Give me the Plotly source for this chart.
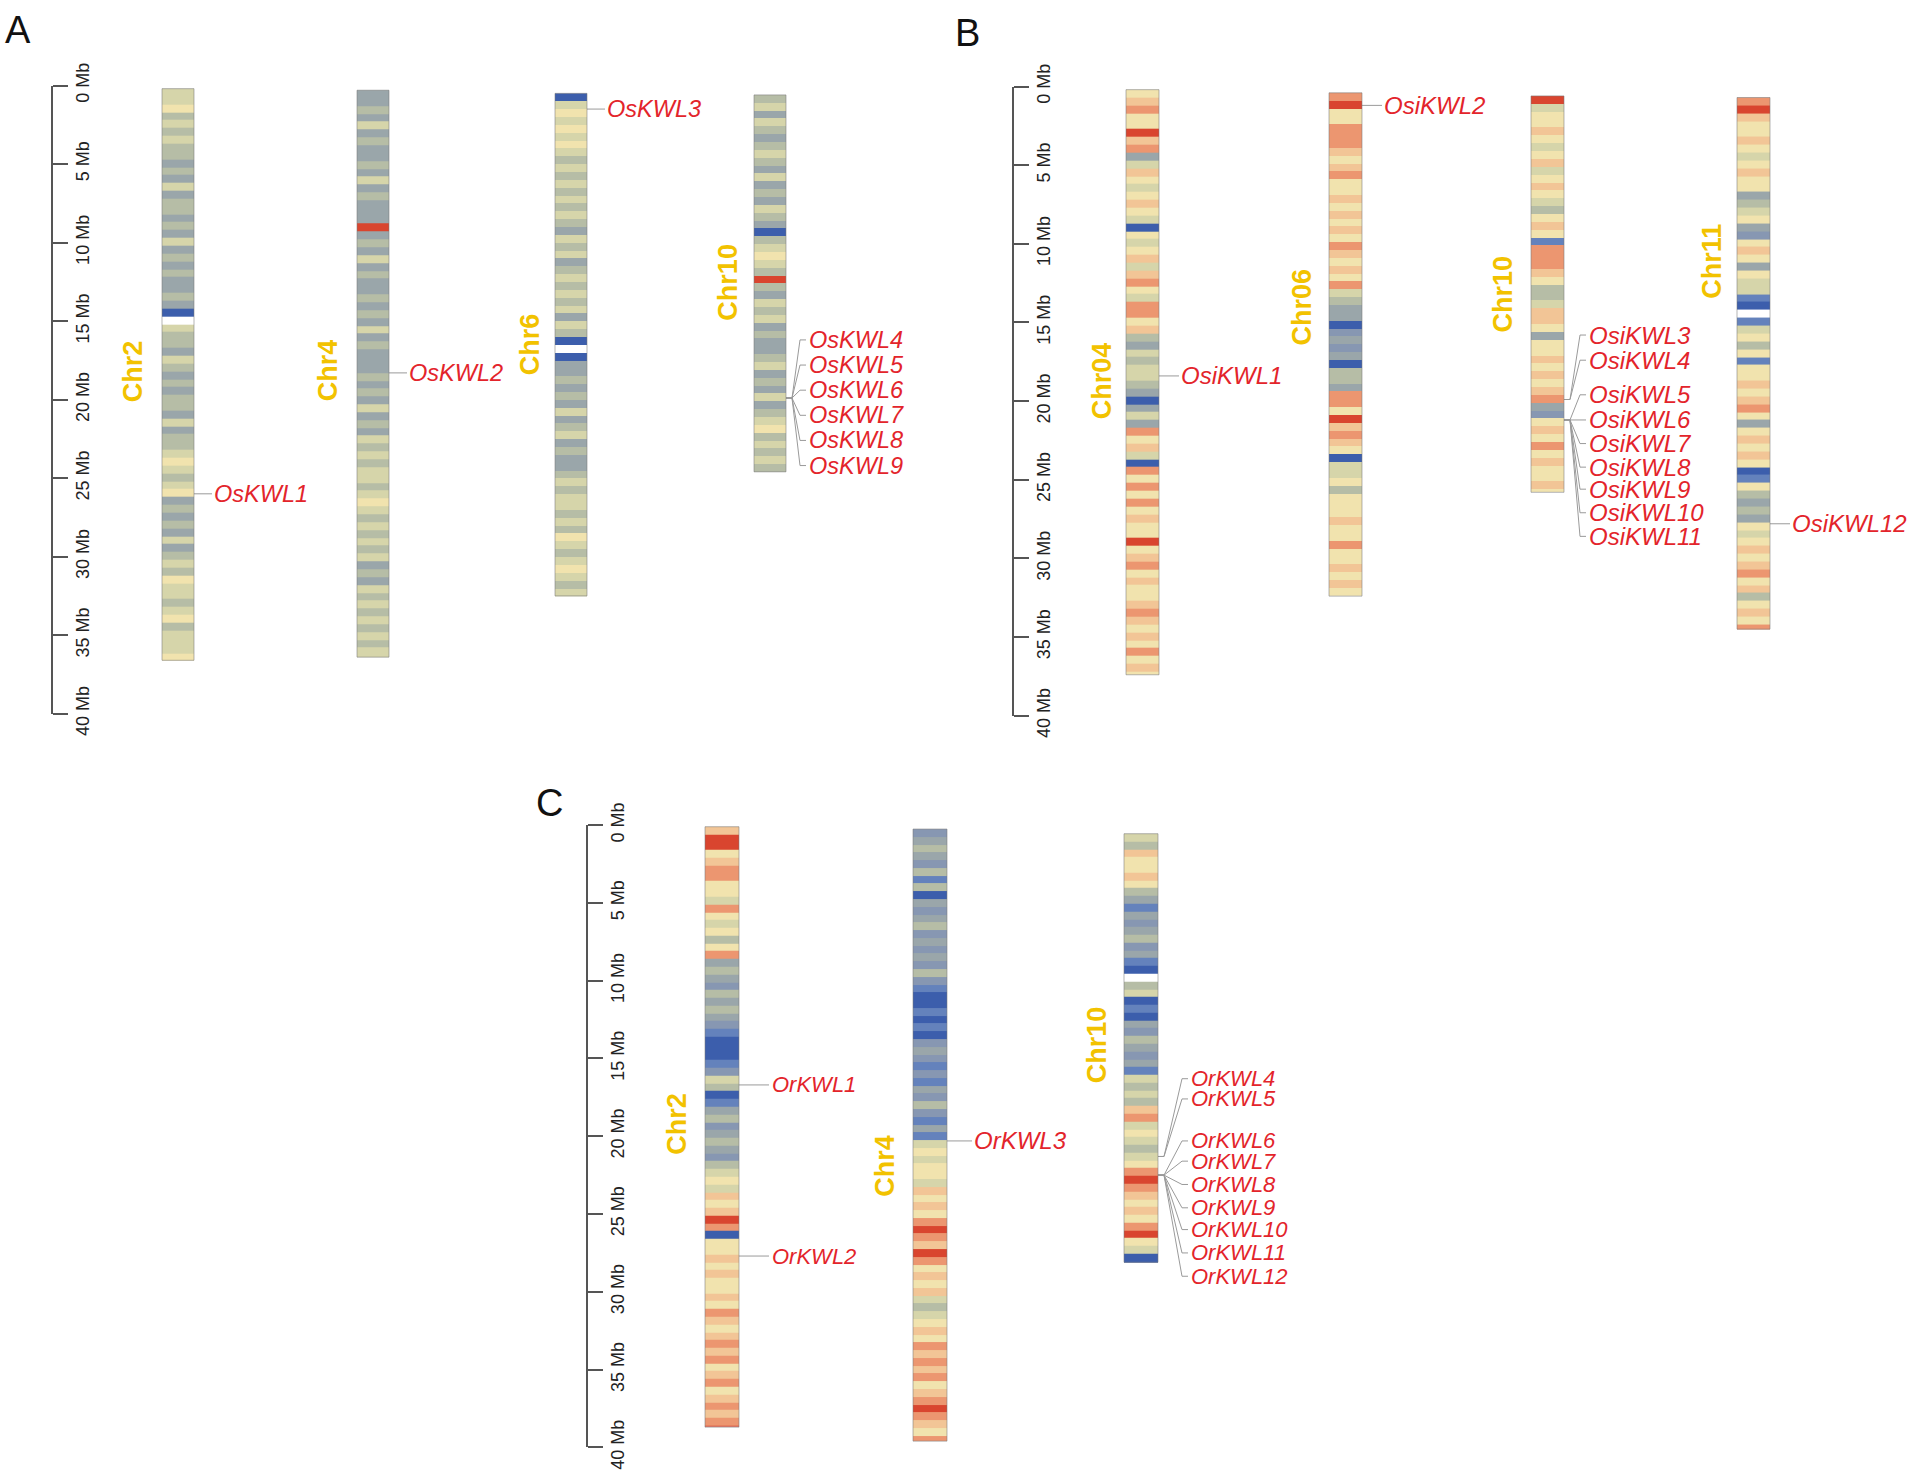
import plotly.graph_objects as go

W, H = 1913, 1481
BIN = 0.5  # Mb covered by one density band

# ---------------- data ----------------
# density level per 0.5 Mb band: 0 (low, blue) ... 9 (high, red); 'w' = gap (white)
A_chroms = ["Chr2", "Chr4", "Chr6", "Chr10"]
A_start = [0.2, 0.3, 0.5, 0.6]
A_end = [36.6, 36.4, 32.5, 24.6]
A_bands = [
    "55645454" "43435344" "34353434" "3343" "0w" "5443543434" "435344565456" "34343534" "5465545645556",
    "33435343" "34353433" "3934" "353433434353" "433343435343" "545455456545" "4545343545454545",
    "05656565" "45454545" "43545345" "45453540" "w0" "33434353" "45343345" "45545465" "456545",
    "45354345" "43534354" "30" "456549" "43545343" "34534353" "45645454",
]
A_genes = ["OsKWL1", "OsKWL2", "OsKWL3", "OsKWL4", "OsKWL5", "OsKWL6", "OsKWL7", "OsKWL8", "OsKWL9"]
A_gene_chrom = ["Chr2", "Chr4", "Chr6", "Chr10", "Chr10", "Chr10", "Chr10", "Chr10", "Chr10"]
A_gene_pos = [26.0, 18.3, 1.5, 19.9, 19.9, 19.9, 19.9, 19.9, 19.9]

B_chroms = ["Chr04", "Chr06", "Chr10", "Chr11"]
B_start = [0.2, 0.4, 0.6, 0.7]
B_end = [37.4, 32.4, 25.8, 34.5]
B_bands = [
    "6786" "6978" "3576" "5676" "5065" "6757" "8658" "8674" "3545" "5430" "3538" "6750"
    "8686" "8676" "6967" "8676" "6787" "6768" "676",
    "8966" "8887" "6786" "6767" "6768" "7676" "8543" "3023" "2304" "4388" "6978" "7605"
    "5646" "6676" "6866" "7676",
    "9566" "7656" "7567" "6546" "7618" "8876" "4457" "7636" "6767" "6783" "2676" "8676" "676",
    "8976" "6765" "6766" "3456" "3267" "6365" "510w" "1564" "6166" "7678" "6367" "6760"
    "1643" "4365" "6767" "8674" "6768",
]
B_genes = ["OsiKWL1", "OsiKWL2", "OsiKWL3", "OsiKWL4", "OsiKWL5", "OsiKWL6", "OsiKWL7",
           "OsiKWL8", "OsiKWL9", "OsiKWL10", "OsiKWL11", "OsiKWL12"]
B_gene_chrom = ["Chr04", "Chr06"] + ["Chr10"] * 9 + ["Chr11"]
B_gene_pos = [18.4, 1.2, 19.9, 19.9, 21.2, 21.2, 21.2, 21.2, 21.2, 21.2, 21.2, 27.8]

C_chroms = ["Chr2", "Chr4", "Chr10"]
C_start = [0.1, 0.25, 0.55]
C_end = [38.7, 39.6, 28.1]
C_bands = [
    "7996" "7886" "6586" "5646" "8343" "2434" "3210" "0012" "5401" "3423" "4324" "5657"
    "6798" "0667" "6766" "7687" "6787" "8678" "6787" "89",
    "2343" "2414" "0323" "4232" "3242" "1001" "0102" "3212" "1324" "2131" "5656" "6576"
    "7689" "8798" "6767" "5456" "7687" "8786" "7898" "768",
    "5476" "6764" "3132" "3423" "10w4" "5010" "3243" "2315" "4547" "8565" "4568" "9876"
    "7689" "6500",
]
C_genes = ["OrKWL1", "OrKWL2", "OrKWL3", "OrKWL4", "OrKWL5", "OrKWL6", "OrKWL7",
           "OrKWL8", "OrKWL9", "OrKWL10", "OrKWL11", "OrKWL12"]
C_gene_chrom = ["Chr2", "Chr2", "Chr4"] + ["Chr10"] * 9
C_gene_pos = [16.7, 27.7, 20.3, 21.3, 21.3, 22.5, 22.5, 22.5, 22.5, 22.5, 22.5, 22.5]

ruler_ticks = [0, 5, 10, 15, 20, 25, 30, 35, 40]
ruler_labels = [f"{t} Mb" for t in ruler_ticks]

# ---------------- layout / style ----------------
LEVEL_COLORS = ["#3C5EAC", "#6482BC", "#8797B2", "#9AA6AA", "#B6BDA6", "#D6D5AA",
                "#F1E3AE", "#F2C596", "#EC9670", "#D9452F", "#FFFFFF"]
GENE_RED = "#E3242B"
CHR_GOLD = "#F2C200"
LINE_GREY = "#9A9A9A"


def vy(px):
    # vertical placement calibration (pixel row in the target picture -> page pixel)
    return (px - 17.2) / 0.974


panels = [
    dict(letter="A", letter_xy=(18, 24), yref="y2", y0px=80, y40px=711, ruler_x=52,
         chroms=A_chroms, start=A_start, end=A_end, bands=A_bands,
         bar_left=[162, 357, 555, 754], bar_w=32,
         name_xy=[(133, 367), (328, 366), (530, 340), (728, 278)],
         genes=A_genes, gene_chrom=A_gene_chrom, gene_pos=A_gene_pos,
         label_y=[26.0, 18.3, 1.5, 16.2, 17.8, 19.4, 21.0, 22.6, 24.2],
         single_gap=19, fan_gap=22, label_size=23.5, cluster_size=23.5),
    dict(letter="B", letter_xy=(968, 27), yref="y3", y0px=81, y40px=713, ruler_x=1013,
         chroms=B_chroms, start=B_start, end=B_end, bands=B_bands,
         bar_left=[1126, 1329, 1531, 1737], bar_w=33,
         name_xy=[(1102, 377), (1302, 303), (1503, 290), (1712, 257)],
         genes=B_genes, gene_chrom=B_gene_chrom, gene_pos=B_gene_pos,
         label_y=[18.4, 1.2, 15.8, 17.4, 19.6, 21.2, 22.7, 24.2, 25.6, 27.1, 28.6, 27.8],
         single_gap=21, fan_gap=24, label_size=24, cluster_size=24),
    dict(letter="C", letter_xy=(549, 801), yref="y4", y0px=823, y40px=1448, ruler_x=587,
         chroms=C_chroms, start=C_start, end=C_end, bands=C_bands,
         bar_left=[705, 913, 1124], bar_w=34,
         name_xy=[(677, 1123), (885, 1165), (1097, 1044)],
         genes=C_genes, gene_chrom=C_gene_chrom, gene_pos=C_gene_pos,
         label_y=[16.7, 27.7, 20.3, 16.3, 17.6, 20.3, 21.6, 23.1, 24.6, 26.0, 27.5, 29.0],
         single_gap=26, fan_gap=32, label_size=24, cluster_size=22),
]

n_lv = len(LEVEL_COLORS)
colorscale = []
for i, c in enumerate(LEVEL_COLORS):
    colorscale.append([i / n_lv, c])
    colorscale.append([(i + 1) / n_lv, c])


def level(ch):
    return 10 if ch == "w" else int(ch)


fig = go.Figure()
annotations = []
shapes = []

for p in panels:
    yref = p["yref"]
    for ci, chrom in enumerate(p["chroms"]):
        s, e, b = p["start"][ci], p["end"][ci], p["bands"][ci]
        edges = [s + BIN * i for i in range(len(b))] + [e]
        left = p["bar_left"][ci]
        right = left + p["bar_w"]
        fig.add_trace(go.Heatmap(
            x=[left, right], y=edges, z=[[level(ch)] for ch in b],
            colorscale=colorscale, zmin=-0.5, zmax=n_lv - 0.5, showscale=False,
            hoverinfo="skip", xaxis="x", yaxis=yref))
        shapes.append(dict(type="rect", xref="x", yref=yref, x0=left, x1=right, y0=s, y1=e,
                           line=dict(color="rgba(120,120,120,0.55)", width=1),
                           fillcolor="rgba(0,0,0,0)"))
        nx, ny = p["name_xy"][ci]
        annotations.append(dict(x=nx / W, y=1 - vy(ny) / H, xref="paper", yref="paper",
                                text=f"<b>{chrom}</b>", textangle=-90, showarrow=False,
                                xanchor="center", yanchor="middle",
                                font=dict(family="Liberation Sans, Arial", size=27, color=CHR_GOLD)))

    # gene labels and connector lines
    lx, ly = [], []
    counts = {}
    for gi, g in enumerate(p["genes"]):
        counts[p["gene_chrom"][gi]] = counts.get(p["gene_chrom"][gi], 0) + 1
    for gi, g in enumerate(p["genes"]):
        chrom = p["gene_chrom"][gi]
        ci = p["chroms"].index(chrom)
        right = p["bar_left"][ci] + p["bar_w"]
        gpos = p["gene_pos"][gi]
        lyy = p["label_y"][gi]
        if counts[chrom] == 1:
            tx = right + p["single_gap"]
            size = p["label_size"]
            lx += [right, tx - 1, None]
            ly += [gpos, gpos, None]
        else:
            tx = right + p["fan_gap"]
            size = p["cluster_size"]
            lx += [right, right + 6, tx - 8, tx - 2, None]
            ly += [gpos, gpos, lyy, lyy, None]
        annotations.append(dict(x=tx, y=lyy, xref="x", yref=yref, text=f"<i>{g}</i>",
                                showarrow=False, xanchor="left", yanchor="middle", borderpad=0,
                                font=dict(family="Liberation Sans, Arial", size=size,
                                          color=GENE_RED)))
    fig.add_trace(go.Scatter(x=lx, y=ly, mode="lines", xaxis="x", yaxis=yref,
                             line=dict(color=LINE_GREY, width=1), hoverinfo="skip",
                             showlegend=False))
    lxp, lyp = p["letter_xy"]
    annotations.append(dict(x=lxp / W, y=1 - vy(lyp) / H, xref="paper", yref="paper",
                            text=p["letter"], showarrow=False, xanchor="center", yanchor="middle",
                            font=dict(family="Liberation Sans, Arial", size=38, color="#111")))

axis_common = dict(range=[40, 0], anchor="free", side="right", showline=True, linecolor="#555",
                   linewidth=1.5, ticks="outside", ticklen=15, tickwidth=1.5, tickcolor="#555",
                   tickvals=ruler_ticks, ticktext=ruler_labels, tickangle=-90,
                   tickfont=dict(family="Liberation Sans, Arial", size=18, color="#222"),
                   showgrid=False, zeroline=False, fixedrange=True)

layout_axes = {}
for p in panels:
    key = "yaxis" + p["yref"][1:]
    d = dict(axis_common)
    d["domain"] = [1 - vy(p["y40px"]) / H, 1 - vy(p["y0px"]) / H]
    d["position"] = p["ruler_x"] / W
    layout_axes[key] = d

fig.update_layout(
    width=W, height=H, margin=dict(l=0, r=0, t=0, b=0, pad=0),
    paper_bgcolor="white", plot_bgcolor="rgba(0,0,0,0)", showlegend=False,
    xaxis=dict(domain=[0, 1], range=[0, W], visible=False, fixedrange=True, anchor="y"),
    yaxis=dict(domain=[0, 1], range=[0, 1], visible=False, fixedrange=True),
    annotations=annotations, shapes=shapes,
    **layout_axes,
)

fig.write_html("out.html", config={"displayModeBar": False},
               post_script="document.body.style.margin='0px';")
